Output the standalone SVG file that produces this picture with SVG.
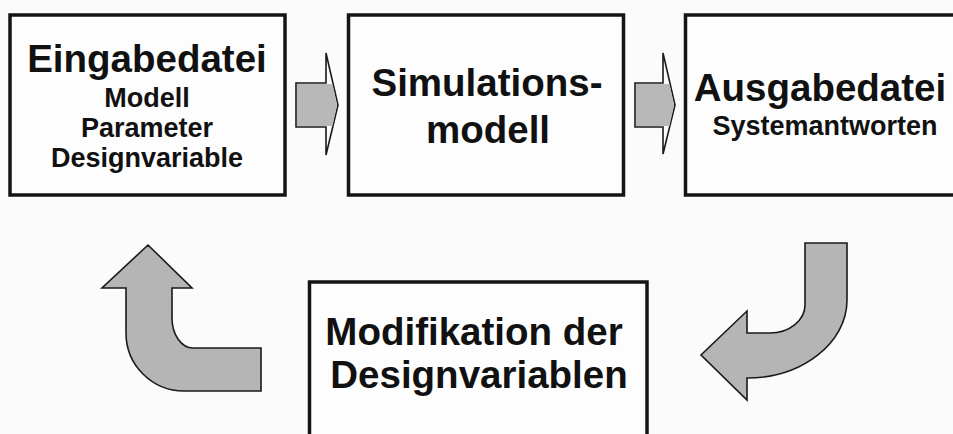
<svg xmlns="http://www.w3.org/2000/svg" width="953" height="434" viewBox="0 0 953 434">
<style>
.box{fill:#fdfdfd;stroke:#141414;stroke-width:3.5}
.arrow{fill:#b5b5b5;stroke:#1a1a1a;stroke-width:1.6;stroke-linejoin:miter}
.outline{fill:#fbfbfb;stroke:#1a1a1a;stroke-width:1.6}
.shade{fill:#b8b8b8;stroke:none}
text{font-family:"Liberation Sans",Arial,sans-serif;font-weight:bold;fill:#111;text-anchor:middle}
.big{font-size:38.5px}
.small{font-size:27px}
</style>
<rect width="953" height="434" fill="#fbfbfb"/>
<g id="node-eingabedatei">
<rect class="box" x="10" y="15" width="275" height="180"/>
<text class="big" x="147" y="72">Eingabedatei</text>
<text class="small" x="147" y="107">Modell</text>
<text class="small" x="147" y="137">Parameter</text>
<text class="small" x="147" y="167">Designvariable</text>
</g>
<g id="node-simulationsmodell">
<rect class="box" x="348.5" y="15" width="275" height="180"/>
<text class="big" x="487" y="96">Simulations-</text>
<text class="big" x="488" y="143">modell</text>
</g>
<g id="node-ausgabedatei">
<rect class="box" x="685.5" y="15" width="300" height="180"/>
<text class="big" x="820" y="101">Ausgabedatei</text>
<text class="small" x="825" y="135">Systemantworten</text>
</g>
<g id="node-modifikation">
<rect class="box" x="309.5" y="282" width="337.5" height="200"/>
<text class="big" x="474" y="345">Modifikation der</text>
<text class="big" x="479" y="388">Designvariablen</text>
</g>
<g id="connectors">
<g id="arrow-1">
<polygon class="outline" points="296,83 326,83 326,53 338,105 326,155 326,127 296,127"/>
<polygon class="shade" points="297,84 332.5,84 337,105 332.5,126 297,126"/>
</g>
<g id="arrow-2">
<polygon class="outline" points="635,83 663,83 663,53 675,105 663,154 663,127 635,127"/>
<polygon class="shade" points="636,84 669.5,84 674,105 669.5,126 636,126"/>
</g>
<path id="arrow-3" class="arrow" d="M126,288 L126,333 C126,365 152,391 184,391 L261,391 L261,348 L193,348 C181.4,348 172,334.6 172,318 L172,288 L192,288 L148,245 L102,288 Z"/>
<path id="arrow-4" class="arrow" d="M805,243 L847,243 L847,300 C847,343 802,378 747,378 L747,400 L701,355 L747,311 L747,333 L770,333 C789,333 805,320.5 805,305 Z"/>
</g>
</svg>
